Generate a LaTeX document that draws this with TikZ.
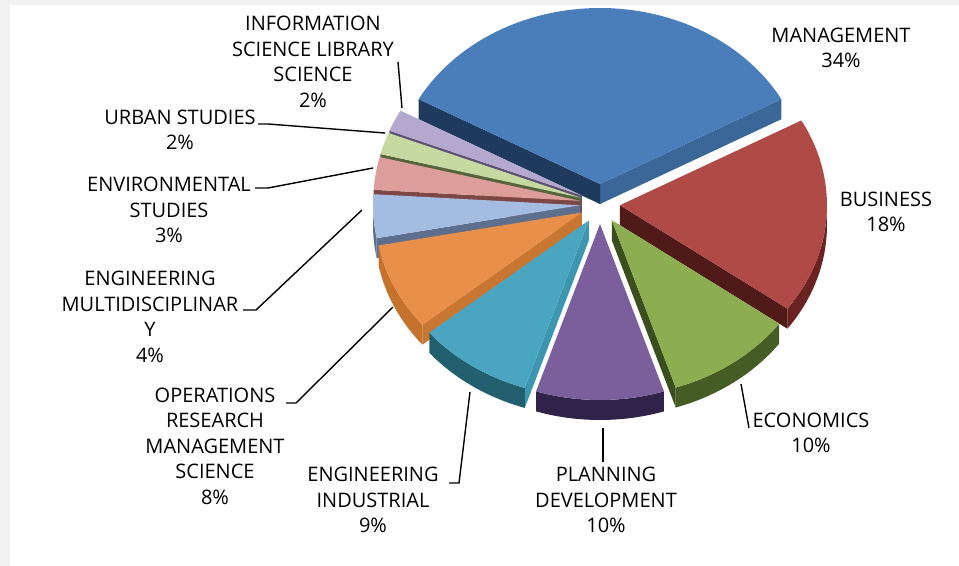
\documentclass[tikz,border=0pt]{standalone}
\usepackage{fontspec}
\setmainfont{Open Sans}

\definecolor{backGray}{HTML}{F2F2F2}
\definecolor{mgmtTop}{HTML}{4A7EBB}
\definecolor{mgmtWall}{HTML}{2C4D75}
\definecolor{mgmtFs}{HTML}{3B6698}
\definecolor{mgmtFe}{HTML}{1E3A5C}
\definecolor{busTop}{HTML}{AF4A47}
\definecolor{busWall}{HTML}{6B2321}
\definecolor{busFs}{HTML}{4F1A18}
\definecolor{ecoTop}{HTML}{8DAE50}
\definecolor{ecoWall}{HTML}{465C25}
\definecolor{ecoFs}{HTML}{3A4E1E}
\definecolor{planTop}{HTML}{7B5F9D}
\definecolor{planWall}{HTML}{30234A}
\definecolor{indTop}{HTML}{4AA5C1}
\definecolor{indWall}{HTML}{22606F}
\definecolor{indFe}{HTML}{3D96AF}
\definecolor{opsTop}{HTML}{E8904A}
\definecolor{opsWall}{HTML}{C4722E}
\definecolor{opsFe}{HTML}{C97632}
\definecolor{multiTop}{HTML}{A4BCE2}
\definecolor{multiWall}{HTML}{5E6F8E}
\definecolor{envTop}{HTML}{DC9D9B}
\definecolor{envFe}{HTML}{7D4745}
\definecolor{urbTop}{HTML}{C5D9A0}
\definecolor{urbFe}{HTML}{56643B}
\definecolor{infoTop}{HTML}{B5A8CF}
\definecolor{infoFe}{HTML}{5E5276}

% pie geometry (pixels)
\newcommand{\rx}{207}
\newcommand{\ry}{176}
\newcommand{\dep}{20}
\newcommand{\explode}{20}

% start angle, end angle, top, wall, start face, end face
\newcommand{\pieslice}[6]{%
  \pgfmathsetmacro\md{(#1+#2)/2}%
  \begin{scope}[shift={({\explode*cos(\md)},{\explode*sin(\md)})}]
    \pgfmathsetmacro\ws{max(#1,180)}%
    \pgfmathsetmacro\wt{min(#2,360)}%
    \ifdim\ws pt<\wt pt
      \fill[#4] plot[domain=\ws:\wt,samples=40] ({\rx*cos(\x)},{\ry*sin(\x)})
        -- plot[domain=\wt:\ws,samples=40] ({\rx*cos(\x)},{\ry*sin(\x)-\dep}) -- cycle;
    \fi
    \pgfmathsetmacro\cs{cos(#1)}%
    \ifdim\cs pt>0pt
      \fill[#5] (0,0) -- ({\rx*cos(#1)},{\ry*sin(#1)}) -- ++(0,-\dep) -- (0,-\dep) -- cycle;
    \fi
    \pgfmathsetmacro\ce{cos(#2)}%
    \ifdim\ce pt<0pt
      \fill[#6] (0,0) -- ({\rx*cos(#2)},{\ry*sin(#2)}) -- ++(0,-\dep) -- (0,-\dep) -- cycle;
    \fi
    \fill[#3] (0,0) -- plot[domain=#1:#2,samples=60] ({\rx*cos(\x)},{\ry*sin(\x)}) -- cycle;
  \end{scope}}

\tikzset{
  lbl/.style={font=\fontsize{10}{12.75}\selectfont, align=center, inner sep=0pt},
  leader/.style={draw=black, line width=0.7pt}
}

\begin{document}
\begin{tikzpicture}[x=0.5pt,y=-0.5pt]
  \fill[backGray] (0,0) rectangle (959,566);
  \fill[white] (10,5) rectangle (959,566);
  \useasboundingbox (0,0) rectangle (959,566);

  % slices, back to front
  \begin{scope}[shift={(600,204)},yscale=-1]
    \pieslice{28.8}{151.2}{mgmtTop}{mgmtWall}{mgmtFs}{mgmtFe}
    \pieslice{151.2}{158.4}{infoTop}{infoFe}{infoFe}{infoFe}
    \pieslice{158.4}{165.6}{urbTop}{urbFe}{urbFe}{urbFe}
    \pieslice{165.6}{176.4}{envTop}{envFe}{envFe}{envFe}
    \pieslice{176.4}{190.8}{multiTop}{multiWall}{multiWall}{multiWall}
    \pieslice{324}{388.8}{busTop}{busWall}{busFs}{busFs}
    \pieslice{190.8}{219.6}{opsTop}{opsWall}{opsFe}{opsFe}
    \pieslice{288}{324}{ecoTop}{ecoWall}{ecoFs}{ecoFs}
    \pieslice{219.6}{252}{indTop}{indWall}{indFe}{indFe}
    \pieslice{252}{288}{planTop}{planWall}{planWall}{planWall}
  \end{scope}

  % labels
  \node[lbl] (mgmt) at (841,48) {MANAGEMENT\\34\%};
  \node[lbl] (bus) at (886,212) {BUSINESS\\18\%};
  \node[lbl] (eco) at (811,433) {ECONOMICS\\10\%};
  \node[lbl] (plan) at (606,500) {PLANNING\\DEVELOPMENT\\10\%};
  \node[lbl] (ind) at (373,500) {ENGINEERING\\INDUSTRIAL\\9\%};
  \node[lbl] (ops) at (215,446) {OPERATIONS\\RESEARCH\\MANAGEMENT\\SCIENCE\\8\%};
  \node[lbl] (multi) at (150,317) {ENGINEERING\\MULTIDISCIPLINAR\\Y\\4\%};
  \node[lbl] (env) at (169,210) {ENVIRONMENTAL\\STUDIES\\3\%};
  \node[lbl] (urb) at (180,130) {URBAN STUDIES\\2\%};
  \node[lbl] (info) at (313,62) {INFORMATION\\SCIENCE LIBRARY\\SCIENCE\\2\%};

  % leader lines
  \coordinate (ecoPt) at (741,384);
  \coordinate (ecoEnd) at (749,428);
  \coordinate (planPt) at (603,428);
  \coordinate (planEnd) at (603,462);
  \coordinate (indPt) at (470,392);
  \coordinate (indKnee) at (459,483);
  \coordinate (indEnd) at (449,483);
  \coordinate (opsPt) at (393,307);
  \coordinate (opsKnee) at (296,403);
  \coordinate (opsEnd) at (286,403);
  \coordinate (multiPt) at (362,210);
  \coordinate (multiKnee) at (256,310);
  \coordinate (multiEnd) at (243,310);
  \coordinate (envPt) at (373,168);
  \coordinate (envKnee) at (268,188);
  \coordinate (envEnd) at (255,188);
  \coordinate (urbPt) at (385,133);
  \coordinate (urbKnee) at (268,124);
  \coordinate (urbEnd) at (258,124);
  \coordinate (infoPt) at (402,108);
  \coordinate (infoEnd) at (398,62);
  \draw[leader] (ecoPt) -- (ecoEnd);
  \draw[leader] (planPt) -- (planEnd);
  \draw[leader] (indPt) -- (indKnee) -- (indEnd);
  \draw[leader] (opsPt) -- (opsKnee) -- (opsEnd);
  \draw[leader] (multiPt) -- (multiKnee) -- (multiEnd);
  \draw[leader] (envPt) -- (envKnee) -- (envEnd);
  \draw[leader] (urbPt) -- (urbKnee) -- (urbEnd);
  \draw[leader] (infoPt) -- (infoEnd);
\end{tikzpicture}
\end{document}
